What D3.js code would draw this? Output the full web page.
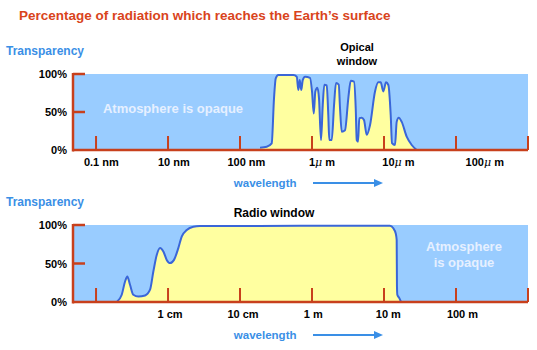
<!DOCTYPE html>
<html><head><meta charset="utf-8">
<script src="https://cdn.jsdelivr.net/npm/d3@7"></script>
<style>
body{margin:0;background:#fff;}
svg{display:block;font-family:"Liberation Sans",Arial,sans-serif;font-weight:bold;}
</style></head>
<body><svg id="c" width="537" height="350"></svg>
<script>
// ---- data ----
const title = "Percentage of radiation which reaches the Earth\u2019s surface";
const yTicks = [0, 50, 100];
const yTickLabels = ["0%", "50%", "100%"];
const xTickPos = [0, 1, 2, 3, 4, 5, 6];
const topTickLabels = ["0.1 nm", "10 nm", "100 nm", "1\u03bc m", "10\u03bc m", "100\u03bc m"];
const topLabelPos = [0.074, 1.08, 2.088, 3.139, 4.2, 5.4];
const bottomTickLabels = ["1 cm", "10 cm", "1 m", "10 m", "100 m"];
const bottomLabelPos = [1.028, 2.042, 3.018, 4.06, 5.09];
// optical window transparency: [wavelength position, %]
const opticalPos = [2.278,2.371,2.44,2.472,2.496,2.532,2.74,2.788,2.81,2.829,2.851,2.871,2.903,2.972,3.0,3.024,3.046,3.074,3.097,3.125,3.149,3.171,3.204,3.226,3.24,3.274,3.306,3.333,3.371,3.389,3.413,3.458,3.504,3.538,3.583,3.607,3.621,3.639,3.657,3.69,3.722,3.76,3.806,3.875,3.921,3.954,3.99,4.028,4.06,4.093,4.111,4.153,4.176,4.204,4.246,4.315,4.385,4.454];
const opticalPct = [3,4.3,8.8,68,94.3,98.7,98.7,96.4,79,92,79,92,96.4,95,77,48,77,82,68,13,59,86,85,46,13,13,59,88,86,55,24,26,68,91,90,55,13,11,42,42.5,39.5,20,33,77,89,89,77,89,85.5,46,9,6.6,37,42.5,37,17.5,6.6,0];
// radio window transparency
const radioPos = [0.288,0.357,0.403,0.435,0.472,0.518,0.588,0.681,0.75,0.796,0.843,0.889,0.935,0.982,1.028,1.083,1.143,1.19,1.26,1.351,1.444,2.139,2.83,3.53,3.944,4.083,4.129,4.163,4.176,4.18,4.185,4.213,4.236];
const radioPct = [0,9.4,26.6,33,22.4,9.4,7.2,8.5,16,39.6,61,70,65.5,54.7,50.5,54.7,70,85,93.5,97.8,98.7,98.8,99,99,99,99,95.7,89,80.6,20,9.4,5,0];

// ---- drawing ----
const svg = d3.select("#c");
const C = {blue:"#99ccff", yellow:"#ffffa0", line:"#3a66d8", axis:"#c8401c", title:"#d9441c", label:"#3a8fe6", opaque:"#e6f0ff"};
const x = d3.scaleLinear().domain([-0.32, 6]).range([73, 528]);

svg.append("text").attr("x", 19).attr("y", 20).attr("fill", C.title)
  .attr("font-size", 13.5).text(title);

function panel(top, bottom, pos, pct, labels, labelPos){
  const y = d3.scaleLinear().domain([0, 100]).range([bottom, top]);
  const g = svg.append("g");
  g.append("rect").attr("x", x.range()[0]).attr("y", y(100))
    .attr("width", x.range()[1]-x.range()[0]).attr("height", y(0)-y(100)).attr("fill", C.blue);
  const pts = pos.map((p,i)=>[p, pct[i]]);
  g.append("path").datum(pts).attr("fill", C.yellow)
    .attr("d", d3.area().x(d=>x(d[0])).y0(y(0)).y1(d=>y(d[1])).curve(d3.curveMonotoneX));
  g.append("path").datum(pts).attr("fill", "none").attr("stroke", C.line).attr("stroke-width", 2)
    .attr("stroke-linejoin","round")
    .attr("d", d3.line().x(d=>x(d[0])).y(d=>y(d[1])).curve(d3.curveMonotoneX));
  // axes
  g.append("line").attr("x1", x.range()[0]).attr("x2", x.range()[0]).attr("y1", y(100)-1).attr("y2", y(0)+1.5)
    .attr("stroke", C.axis).attr("stroke-width", 2.5);
  g.append("line").attr("x1", x.range()[0]).attr("x2", x.range()[1]).attr("y1", y(0)).attr("y2", y(0))
    .attr("stroke", C.axis).attr("stroke-width", 2.5);
  g.selectAll(".yt").data(yTicks.filter(v=>v>0)).enter().append("line")
    .attr("x1", x.range()[0]).attr("x2", x.range()[0]+12).attr("y1", d=>y(d)).attr("y2", d=>y(d))
    .attr("stroke", C.axis).attr("stroke-width", 2.5);
  g.selectAll(".xt").data(xTickPos).enter().append("line")
    .attr("x1", d=>x(d)).attr("x2", d=>x(d)).attr("y1", y(0)).attr("y2", y(0)-14)
    .attr("stroke", C.axis).attr("stroke-width", 2);
  g.selectAll(".yl").data(yTicks).enter().append("text")
    .attr("x", 67).attr("y", d=>y(d)+4).attr("text-anchor","end").attr("font-size", 11)
    .text((d,i)=>yTickLabels[i]);
  g.selectAll(".xl").data(labels).enter().append("text")
    .attr("x", (d,i)=>x(labelPos[i])).attr("y", y(0)+16).attr("text-anchor","middle").attr("font-size", 11)
    .html(d=>{
      if(d.indexOf("\u03bc")<0) return d;
      const parts = d.split("\u03bc");
      return parts[0]+'<tspan font-style="italic" font-weight="normal" font-family="DejaVu Serif">\u03bc</tspan>'+parts[1];
    });
  // wavelength + arrow
  const wy = y(0)+33;
  g.append("text").attr("x", 296.5).attr("y", wy+4).attr("text-anchor","end").attr("fill", C.label)
    .attr("font-size", 11.5).text("wavelength");
  g.append("line").attr("x1", 313).attr("x2", 376).attr("y1", wy).attr("y2", wy)
    .attr("stroke", C.label).attr("stroke-width", 2);
  g.append("path").attr("d", `M${374},${wy-4}L${383},${wy}L${374},${wy+4}Z`).attr("fill", C.label);
  return y;
}

const yTop = panel(74, 150, opticalPos, opticalPct, topTickLabels, topLabelPos);
const yBot = panel(225, 302, radioPos, radioPct, bottomTickLabels, bottomLabelPos);

// labels
svg.append("text").attr("x", 6).attr("y", 55).attr("fill", C.label).attr("font-size", 12).text("Transparency");
svg.append("text").attr("x", 6).attr("y", 206).attr("fill", C.label).attr("font-size", 12).text("Transparency");
svg.append("text").attr("x", 357).attr("y", 51).attr("text-anchor","middle").attr("font-size", 11).text("Opical");
svg.append("text").attr("x", 357).attr("y", 65).attr("text-anchor","middle").attr("font-size", 11).text("window");
svg.append("text").attr("x", 274).attr("y", 217).attr("text-anchor","middle").attr("font-size", 12).text("Radio window");
svg.append("text").attr("x", 173).attr("y", 113).attr("text-anchor","middle").attr("fill", C.opaque)
  .attr("font-size", 13).text("Atmosphere is opaque");
svg.append("text").attr("x", 464).attr("y", 251).attr("text-anchor","middle").attr("fill", C.opaque)
  .attr("font-size", 13).text("Atmosphere");
svg.append("text").attr("x", 464).attr("y", 267).attr("text-anchor","middle").attr("fill", C.opaque)
  .attr("font-size", 13).text("is opaque");
</script></body></html>
